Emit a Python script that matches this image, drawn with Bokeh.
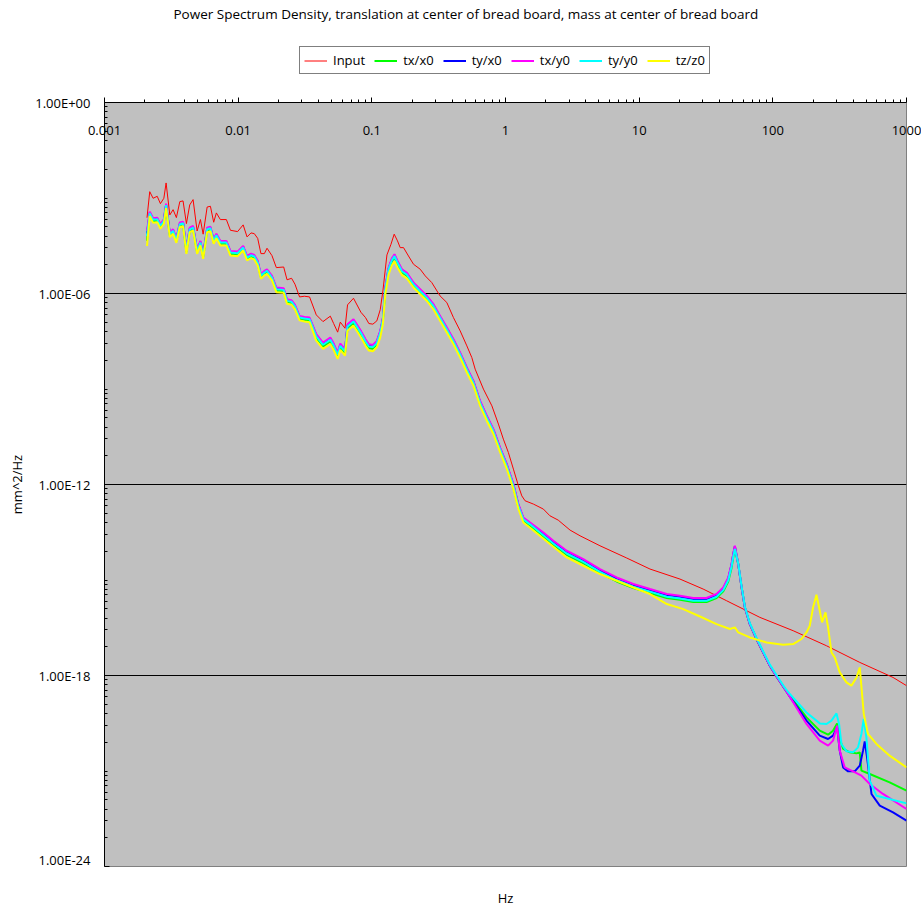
from bokeh.plotting import figure
from bokeh.layouts import column
from bokeh.models import (Range1d, FixedTicker, CustomJSTickFormatter, Legend,
                          LegendItem, Label)
from bokeh.embed import file_html
from bokeh.resources import INLINE

FONT = "Open Sans"

# ---------------- data ----------------
freq_low = [0.00208, 0.00218, 0.00231, 0.00248, 0.00262, 0.00278, 0.00289, 0.00308, 0.00326, 0.00345,
            0.00366, 0.00387, 0.0041, 0.00434, 0.0046, 0.00493, 0.00522, 0.00547, 0.00586, 0.0062,
            0.00656, 0.00687, 0.00736, 0.00816, 0.00875, 0.0099, 0.0109, 0.01165, 0.01248, 0.0132,
            0.014, 0.0148, 0.0157, 0.01644, 0.0179, 0.0193, 0.0219, 0.0232, 0.0251, 0.0266,
            0.0288, 0.0313, 0.0342, 0.0384, 0.0431, 0.0489, 0.0518, 0.0555, 0.0581, 0.063,
            0.0658, 0.0729, 0.0828, 0.0897, 0.095, 0.1018, 0.109]

freq_mid = [0.1156, 0.121, 0.126, 0.1334, 0.1413, 0.1478, 0.1556, 0.1679, 0.1829, 0.205,
            0.230, 0.258, 0.289, 0.324, 0.364, 0.408, 0.458, 0.514, 0.576, 0.646,
            0.725, 0.812, 0.912, 1.023, 1.146, 1.249, 1.36, 1.527]

freq_high_common = [1.92, 2.28, 2.87, 3.82, 5.09, 6.79, 9.04, 12.05, 16.1, 20.2,
                    25.4, 31.9, 37.9, 42.6, 46.4, 49.1, 50.5, 52.0, 55.1, 58.4,
                    61.8, 67.3, 75.5, 84.7, 95, 106.6, 123]

# Input
input_psd_low = [2.4e-4, 1.58e-3, 9.8e-4, 1.13e-3, 6.65e-4, 9.8e-4, 2.97e-3, 2.94e-4, 4.3e-4, 2.42e-4,
                 7.7e-4, 8.1e-4, 1.57e-4, 6.05e-4, 8.9e-4, 9.2e-5, 2.1e-4, 7.3e-5, 5.2e-4, 5.5e-4,
                 1.73e-4, 3.4e-4, 2.1e-4, 2.1e-4, 9.7e-5, 8.8e-5, 1.43e-4, 6.0e-5, 8.0e-5, 7.6e-5,
                 5.4e-5, 1.79e-5, 1.79e-5, 2.64e-5, 1.55e-5, 6.5e-6, 6.8e-6, 2.7e-6, 3.0e-6, 1.96e-6,
                 7.8e-7, 8.2e-7, 7.8e-7, 2.13e-7, 1.31e-7, 1.94e-7, 1.14e-7, 6.1e-8, 1.26e-7, 8.1e-8,
                 4.4e-7, 7.1e-7, 2.58e-7, 1.75e-7, 1.14e-7, 1.09e-7, 1.38e-7]
input_freq_tail = [0.1156, 0.121, 0.1297, 0.139, 0.147, 0.1556, 0.163, 0.1726, 0.188, 0.205,
                   0.230, 0.251, 0.281, 0.324, 0.364, 0.408, 0.458, 0.514, 0.56, 0.593,
                   0.684, 0.791, 0.885, 0.964, 1.051, 1.146, 1.249, 1.324, 1.401, 1.616,
                   1.92, 2.15, 2.48, 3.04, 3.61, 5.09, 8.07, 12.05, 20.2, 30.1,
                   45.1, 80, 142, 252, 447, 793, 1000]
input_psd_tail = [3.1e-7, 1.21e-6, 1.63e-5, 3.5e-5, 7.3e-5, 4.5e-5, 2.76e-5, 2.76e-5, 1.51e-5, 8.3e-6,
                  5.8e-6, 3.57e-6, 2.2e-6, 8.4e-7, 5.2e-7, 1.75e-7, 6.7e-8, 2.26e-8, 9.7e-9, 4.2e-9,
                  9.9e-10, 2.96e-10, 7.9e-11, 2.66e-11, 1.01e-11, 3.04e-12, 9.1e-13, 4.4e-13, 3.08e-13, 2.43e-13,
                  1.69e-13, 1.04e-13, 7.6e-14, 3.7e-14, 2.45e-14, 1.19e-14, 4.9e-15, 2.21e-15, 1.07e-15, 5.2e-16,
                  2.23e-16, 6.7e-17, 2.55e-17, 8.6e-18, 2.58e-18, 8.7e-19, 4.8e-19]

# tx/x0 (green)
tx_x0_low = [4.5e-5, 3.02e-4, 1.87e-4, 1.96e-4, 1.22e-4, 1.74e-4, 5.4e-4, 6.64e-5, 8.42e-5, 4.37e-5,
             1.37e-4, 1.47e-4, 1.98e-5, 9.48e-5, 1.07e-4, 1.98e-5, 3.63e-5, 1.39e-5, 9.48e-5, 1.02e-4,
             4.1e-5, 6.16e-5, 3.63e-5, 3.63e-5, 1.76e-5, 1.68e-5, 2.53e-5, 1.23e-5, 1.45e-5, 1.32e-5,
             8.59e-6, 3.26e-6, 4.16e-6, 4.68e-6, 2.89e-6, 1.24e-6, 1.18e-6, 5.35e-7, 4.98e-7, 3.56e-7,
             1.6e-7, 1.49e-7, 1.42e-7, 4.0e-8, 2.19e-8, 3.14e-8, 2.04e-8, 1.06e-8, 2.04e-8, 1.35e-8,
             8.21e-8, 1.19e-7, 5.09e-8, 2.78e-8, 1.94e-8, 1.85e-8, 2.47e-8]
tx_x0_mid = [5.4e-8, 1.4e-7, 1.22e-6, 5.2e-6, 1.02e-5, 1.37e-5, 8.5e-6, 4.6e-6, 3.6e-6, 1.76e-6,
             1.09e-6, 6.7e-7, 3.7e-7, 1.58e-7, 6.8e-8, 2.94e-8, 1.11e-8, 3.8e-9, 1.44e-9, 3.36e-10,
             1.15e-10, 4.4e-11, 1.16e-11, 3.5e-12, 8.2e-13, 1.94e-13, 7.4e-14, 5.1e-14]
tx_x0_high = [2.3e-14, 1.28e-14, 6.2e-15, 3.4e-15, 1.66e-15, 9.0e-16, 5.6e-16, 3.9e-16, 2.72e-16, 2.4e-16,
              2.03e-16, 2.03e-16, 2.72e-16, 4.4e-16, 9.0e-16, 2.4e-15, 5.0e-15, 9.5e-15, 3.16e-15, 5.8e-16,
              1.37e-16, 4.1e-17, 1.4e-17, 5.3e-18, 2.03e-18, 9.4e-19, 3.77e-19]
tx_x0_freq_tail = [134, 178.6, 224.5, 259, 282, 302.6, 317, 336, 377, 423, 447, 460, 531, 748, 1000]
tx_x0_psd_tail = [2.32e-19, 4.84e-20, 1.85e-20, 1.38e-20, 1.85e-20, 3.13e-20, 1.01e-20, 4.92e-21, 3.85e-21,
                  3.58e-21, 3.85e-21, 1.03e-21, 8.07e-22, 4.4e-22, 2.42e-22]

# ty/x0 (blue)
ty_x0_low = [7.6e-5, 3.47e-4, 2.15e-4, 2.25e-4, 1.4e-4, 2.0e-4, 6.2e-4, 7.63e-5, 9.67e-5, 5.02e-5,
             1.57e-4, 1.68e-4, 2.28e-5, 1.09e-4, 1.23e-4, 2.28e-5, 4.17e-5, 1.59e-5, 1.09e-4, 1.17e-4,
             4.71e-5, 7.07e-5, 4.17e-5, 4.17e-5, 2.02e-5, 1.93e-5, 2.9e-5, 1.41e-5, 1.66e-5, 1.52e-5,
             9.86e-6, 3.75e-6, 4.77e-6, 5.38e-6, 3.32e-6, 1.42e-6, 1.36e-6, 6.14e-7, 5.72e-7, 4.08e-7,
             1.84e-7, 1.71e-7, 1.63e-7, 4.89e-8, 2.68e-8, 3.84e-8, 2.49e-8, 1.3e-8, 2.49e-8, 1.66e-8,
             1.0e-7, 1.45e-7, 6.23e-8, 3.4e-8, 2.37e-8, 2.26e-8, 3.02e-8]
ty_x0_mid = [6.2e-8, 1.63e-7, 1.42e-6, 6.0e-6, 1.19e-5, 1.59e-5, 9.9e-6, 5.4e-6, 4.2e-6, 2.05e-6,
             1.26e-6, 7.8e-7, 4.3e-7, 1.84e-7, 7.9e-8, 3.41e-8, 1.29e-8, 4.4e-9, 1.67e-9, 3.9e-10,
             1.34e-10, 5.1e-11, 1.35e-11, 4.1e-12, 9.6e-13, 2.26e-13, 8.6e-14, 5.95e-14]
ty_x0_high = [2.9e-14, 1.6e-14, 7.7e-15, 4.2e-15, 2.05e-15, 1.12e-15, 7.0e-16, 4.8e-16, 3.37e-16, 2.98e-16,
              2.52e-16, 2.52e-16, 3.37e-16, 5.4e-16, 1.12e-15, 3.0e-15, 6.2e-15, 1.15e-14, 3.16e-15, 5.8e-16,
              1.37e-16, 4.1e-17, 1.4e-17, 5.3e-18, 2.03e-18, 9.4e-19, 3.77e-19]
ty_x0_freq_tail = [134, 178.6, 224.5, 259, 282, 302.6, 316.7, 335.7, 365.6, 410, 447, 473, 487, 507, 547,
                   631, 793, 1000]
ty_x0_psd_tail = [2.16e-19, 3.81e-20, 1.29e-20, 1.01e-20, 1.29e-20, 2.35e-20, 4.36e-21, 1.3e-21, 9.75e-22,
                  9.75e-22, 1.47e-21, 4.36e-21, 8.5e-21, 2.69e-21, 1.9e-22, 8.2e-23, 5.0e-23, 2.76e-23]

# tx/y0 (magenta)
tx_y0_low = [9.2e-5, 3.73e-4, 2.31e-4, 2.42e-4, 1.5e-4, 2.15e-4, 6.67e-4, 8.2e-5, 1.04e-4, 5.4e-5,
             1.69e-4, 1.81e-4, 2.45e-5, 1.17e-4, 1.32e-4, 2.45e-5, 4.48e-5, 1.71e-5, 1.17e-4, 1.26e-4,
             5.06e-5, 7.6e-5, 4.48e-5, 4.48e-5, 2.17e-5, 2.07e-5, 3.12e-5, 1.52e-5, 1.79e-5, 1.63e-5,
             1.06e-5, 4.03e-6, 5.13e-6, 5.78e-6, 3.57e-6, 1.53e-6, 1.46e-6, 6.6e-7, 6.15e-7, 4.39e-7,
             1.98e-7, 1.84e-7, 1.75e-7, 5.26e-8, 2.88e-8, 4.13e-8, 2.68e-8, 1.4e-8, 2.68e-8, 1.78e-8,
             1.08e-7, 1.56e-7, 6.7e-8, 3.66e-8, 2.55e-8, 2.43e-8, 3.25e-8]
tx_y0_mid = [6.7e-8, 1.75e-7, 1.53e-6, 6.5e-6, 1.28e-5, 1.71e-5, 1.06e-5, 5.8e-6, 4.5e-6, 2.2e-6,
             1.36e-6, 8.4e-7, 4.6e-7, 1.98e-7, 8.5e-8, 3.67e-8, 1.39e-8, 4.7e-9, 1.8e-9, 4.2e-10,
             1.44e-10, 5.5e-11, 1.45e-11, 4.4e-12, 1.03e-12, 2.43e-13, 9.2e-14, 6.4e-14]
tx_y0_high = [3.1e-14, 1.71e-14, 8.3e-15, 4.5e-15, 2.21e-15, 1.2e-15, 7.5e-16, 5.2e-16, 3.62e-16, 3.2e-16,
              2.71e-16, 2.71e-16, 3.62e-16, 5.8e-16, 1.2e-15, 3.16e-15, 6.5e-15, 1.19e-14, 3.16e-15, 5.8e-16,
              1.37e-16, 4.1e-17, 1.4e-17, 5.3e-18, 2.03e-18, 9.4e-19, 3.77e-19]
tx_y0_freq_tail = [134, 178.6, 224.5, 259, 282, 302.6, 316.7, 345, 398, 434, 460, 531, 667, 1000]
tx_y0_psd_tail = [2.16e-19, 3.0e-20, 8.97e-21, 6.25e-21, 8.97e-21, 2.65e-20, 4.36e-21, 1.3e-21, 9.75e-22,
                  8.07e-22, 7.14e-22, 3.92e-22, 1.9e-22, 6.4e-23]

# ty/y0 (cyan)
ty_y0_low = [6.3e-5, 3.32e-4, 2.06e-4, 2.15e-4, 1.34e-4, 1.91e-4, 5.94e-4, 7.3e-5, 9.26e-5, 4.81e-5,
             1.5e-4, 1.61e-4, 2.18e-5, 1.04e-4, 1.17e-4, 2.18e-5, 3.99e-5, 1.52e-5, 1.04e-4, 1.12e-4,
             4.5e-5, 6.76e-5, 3.99e-5, 3.99e-5, 1.93e-5, 1.84e-5, 2.78e-5, 1.35e-5, 1.59e-5, 1.45e-5,
             9.43e-6, 3.59e-6, 4.57e-6, 5.14e-6, 3.18e-6, 1.36e-6, 1.3e-6, 5.87e-7, 5.47e-7, 3.91e-7,
             1.76e-7, 1.64e-7, 1.56e-7, 4.47e-8, 2.45e-8, 3.51e-8, 2.28e-8, 1.19e-8, 2.28e-8, 1.51e-8,
             9.18e-8, 1.33e-7, 5.7e-8, 3.11e-8, 2.17e-8, 2.07e-8, 2.76e-8]
ty_y0_mid = [5.8e-8, 1.52e-7, 1.33e-6, 5.7e-6, 1.11e-5, 1.49e-5, 9.2e-6, 5.0e-6, 3.9e-6, 1.91e-6,
             1.18e-6, 7.3e-7, 4.0e-7, 1.72e-7, 7.4e-8, 3.19e-8, 1.21e-8, 4.1e-9, 1.57e-9, 3.65e-10,
             1.25e-10, 4.8e-11, 1.26e-11, 3.8e-12, 9.0e-13, 2.11e-13, 8.0e-14, 5.6e-14]
ty_y0_high = [2.54e-14, 1.4e-14, 6.8e-15, 3.7e-15, 1.81e-15, 9.8e-16, 6.2e-16, 4.3e-16, 2.97e-16, 2.62e-16,
              2.22e-16, 2.22e-16, 2.97e-16, 4.8e-16, 9.8e-16, 2.6e-15, 5.2e-15, 9.5e-15, 3.3e-15, 6.2e-16,
              1.45e-16, 4.4e-17, 1.5e-17, 5.7e-18, 2.2e-18, 1.02e-18, 4.1e-19]
ty_y0_freq_tail = [134, 178.6, 224.5, 252, 274.6, 299.4, 313, 326, 356, 398, 434, 460, 479, 501, 531,
                   596, 748, 1000]
ty_y0_psd_tail = [2.62e-19, 6.9e-20, 3.13e-20, 3.0e-20, 3.81e-20, 6.45e-20, 3.0e-20, 7.06e-21, 4.14e-21,
                  3.85e-21, 5.53e-21, 1.46e-20, 4.3e-20, 1.14e-20, 4.98e-22, 1.68e-22, 1.32e-22, 9.6e-23]

# tz/z0 (yellow)
tz_z0_low = [3.1e-5, 2.69e-4, 1.66e-4, 1.74e-4, 1.08e-4, 1.55e-4, 4.8e-4, 5.9e-5, 7.49e-5, 3.89e-5,
             1.22e-4, 1.3e-4, 1.76e-5, 8.42e-5, 9.5e-5, 1.76e-5, 3.23e-5, 1.23e-5, 8.42e-5, 9.07e-5,
             3.64e-5, 5.47e-5, 3.23e-5, 3.23e-5, 1.56e-5, 1.49e-5, 2.25e-5, 1.09e-5, 1.29e-5, 1.17e-5,
             7.63e-6, 2.9e-6, 3.69e-6, 4.16e-6, 2.57e-6, 1.1e-6, 1.05e-6, 4.75e-7, 4.43e-7, 3.16e-7,
             1.43e-7, 1.32e-7, 1.26e-7, 3.31e-8, 1.81e-8, 2.6e-8, 1.69e-8, 8.8e-9, 1.69e-8, 1.12e-8,
             6.8e-8, 9.83e-8, 4.22e-8, 2.31e-8, 1.61e-8, 1.53e-8, 2.05e-8]
tz_z0_mid = [4.2e-8, 1.1e-7, 9.2e-7, 3.9e-6, 7.7e-6, 1.03e-5, 6.6e-6, 3.8e-6, 3.0e-6, 1.54e-6,
             9.5e-7, 5.9e-7, 3.2e-7, 1.39e-7, 6.0e-8, 2.57e-8, 9.7e-9, 3.3e-9, 1.26e-9, 2.94e-10,
             1.01e-10, 3.85e-11, 1.02e-11, 3.1e-12, 7.2e-13, 1.7e-13, 6.4e-14, 4.4e-14]
tz_z0_freq_tail = [2.15, 2.87, 3.82, 5.09, 6.79, 9.04, 12.05, 16.1, 21.4, 28.8,
                   37.9, 47.7, 52.0, 55.1, 67.3, 89.7, 119.4, 142, 163.8, 178.6,
                   189, 200, 212, 224.5, 233.6, 247.8, 259, 274.6, 290.6, 316.7,
                   355.6, 387, 423, 447, 479, 515, 596, 748, 1000]
tz_z0_psd_tail = [1.35e-14, 5.1e-15, 2.8e-15, 1.54e-15, 9.5e-16, 5.8e-16, 3.62e-16, 1.76e-16, 1.22e-16, 7.0e-17,
                  4.1e-17, 2.88e-17, 3.24e-17, 2.25e-17, 1.57e-17, 1.09e-17, 9.3e-18, 9.7e-18, 1.4e-17, 2.25e-17,
                  3.66e-17, 1.37e-16, 3.44e-16, 1.08e-16, 4.65e-17, 9.6e-17, 3.24e-17, 5.3e-18, 3.7e-18, 1.25e-18,
                  6.1e-19, 4.8e-19, 8.7e-19, 1.79e-18, 6.2e-20, 1.46e-20, 7.06e-21, 3.03e-21, 1.3e-21]

series_names = ["Input", "tx/x0", "ty/x0", "tx/y0", "ty/y0", "tz/z0"]
series_colors = ["#FF0000", "#00FF00", "#0000FF", "#FF00FF", "#00FFFF", "#FFFF00"]
series_widths = [1, 2, 2, 2, 2, 2]

series_freq = [
    freq_low + input_freq_tail,
    freq_low + freq_mid + freq_high_common + tx_x0_freq_tail,
    freq_low + freq_mid + freq_high_common + ty_x0_freq_tail,
    freq_low + freq_mid + freq_high_common + tx_y0_freq_tail,
    freq_low + freq_mid + freq_high_common + ty_y0_freq_tail,
    freq_low + freq_mid + tz_z0_freq_tail,
]
series_psd = [
    input_psd_low + input_psd_tail,
    tx_x0_low + tx_x0_mid + tx_x0_high + tx_x0_psd_tail,
    ty_x0_low + ty_x0_mid + ty_x0_high + ty_x0_psd_tail,
    tx_y0_low + tx_y0_mid + tx_y0_high + tx_y0_psd_tail,
    ty_y0_low + ty_y0_mid + ty_y0_high + ty_y0_psd_tail,
    tz_z0_low + tz_z0_mid + tz_z0_psd_tail,
]

x_major = [1e-3, 1e-2, 1e-1, 1.0, 1e1, 1e2, 1e3]
y_major = [1e-24, 1e-18, 1e-12, 1e-6, 1.0]

TITLE_TEXT = "Power Spectrum Density, translation at center of bread board, mass at center of bread board"
X_LABEL = "Hz"
Y_LABEL = "mm^2/Hz"


def strip(height):
    f = figure(width=921, height=height, x_range=Range1d(0, 1), y_range=Range1d(0, 1),
               x_axis_location=None, y_axis_location=None, output_backend="svg",
               toolbar_location=None, min_border=0, outline_line_color=None,
               background_fill_color="white", border_fill_color="white")
    f.xgrid.visible = False
    f.ygrid.visible = False
    return f


# ---------------- header strip: title + legend ----------------
head = strip(92)
head.add_layout(Label(x=69, y=79, x_units="screen", y_units="screen", text=TITLE_TEXT,
                      text_font=FONT, text_font_size="13.5px", text_color="black",
                      text_align="left", text_baseline="middle"))

# legend keys: line samples carrying each series' colour and width (no drawn data)
key_renderers = [head.line(x=[float("nan")], y=[float("nan")], line_color=c, line_width=w)
                 for c, w in zip(series_colors, series_widths)]
legend = Legend(items=[LegendItem(label=n, renderers=[r]) for n, r in zip(series_names, key_renderers)],
                orientation="horizontal", location=(195, 18),
                border_line_color="black", border_line_width=1, background_fill_color="white",
                background_fill_alpha=1.0,
                label_text_font=FONT, label_text_font_size="13px", label_text_color="black",
                glyph_width=23, glyph_height=15, label_height=15, label_standoff=6,
                spacing=9, padding=4, margin=0)
head.add_layout(legend)

# ---------------- main chart ----------------
p = figure(width=921, height=776, x_axis_type="log", y_axis_type="log",
           x_range=Range1d(1e-3, 1e3), y_range=Range1d(1e-24, 1.0),
           x_axis_location="above", output_backend="svg", toolbar_location=None,
           min_border_left=104, min_border_right=15, min_border_top=10, min_border_bottom=2,
           background_fill_color="#C0C0C0", border_fill_color="white",
           outline_line_color="#808080", outline_line_width=1)

x_minor = [k * m for m in x_major[:-1] for k in range(2, 10)]
y_minor = []
for seg in range(8):
    base = 1e-24 * 1000.0 ** seg
    y_minor += [base * k ** 3 for k in range(2, 10)]
    if seg % 2 == 1:
        y_minor.append(base)

xa = p.xaxis[0]
xa.ticker = FixedTicker(ticks=x_major, minor_ticks=x_minor)
xa.formatter = CustomJSTickFormatter(code="return String(parseFloat(tick.toPrecision(1)));")
xa.major_tick_out = 5
xa.major_tick_in = 0
xa.minor_tick_out = 3
xa.minor_tick_in = 0
xa.axis_line_color = "black"
xa.major_label_standoff = -37
xa.major_label_text_font = FONT
xa.major_label_text_font_size = "13px"
xa.major_label_text_color = "black"

ya = p.yaxis[0]
ya.ticker = FixedTicker(ticks=y_major, minor_ticks=y_minor)
ya.formatter = CustomJSTickFormatter(code="""
const s = tick.toExponential(2);
const parts = s.split('e');
let e = parts[1];
const sign = e[0];
let d = e.slice(1);
if (d.length < 2) { d = '0' + d; }
return parts[0] + 'E' + sign + d;
""")
ya.major_tick_in = 5
ya.major_tick_out = 0
ya.minor_tick_in = 3
ya.minor_tick_out = 0
ya.axis_line_color = "black"
ya.major_label_standoff = 14
ya.major_label_text_font = FONT
ya.major_label_text_font_size = "13px"
ya.major_label_text_color = "black"
ya.axis_label = Y_LABEL
ya.axis_label_text_font = FONT
ya.axis_label_text_font_size = "13px"
ya.axis_label_text_font_style = "normal"
ya.axis_label_text_color = "black"
ya.axis_label_standoff = 6

p.xgrid.visible = False
p.ygrid.ticker = FixedTicker(ticks=y_major)
p.ygrid.grid_line_color = "black"
p.ygrid.grid_line_width = 1

for name, fr, ps, col, w in zip(series_names, series_freq, series_psd, series_colors, series_widths):
    p.line(fr, ps, line_color=col, line_width=w)

# ---------------- footer strip: x-axis title ----------------
foot = strip(41)
foot.add_layout(Label(x=0.5, y=12, x_units="data", y_units="screen", text=X_LABEL,
                      text_font=FONT, text_font_size="13px", text_color="black",
                      text_align="center", text_baseline="middle"))

layout = column(head, p, foot, spacing=0)
open("out.html", "w").write(file_html(layout, INLINE))
